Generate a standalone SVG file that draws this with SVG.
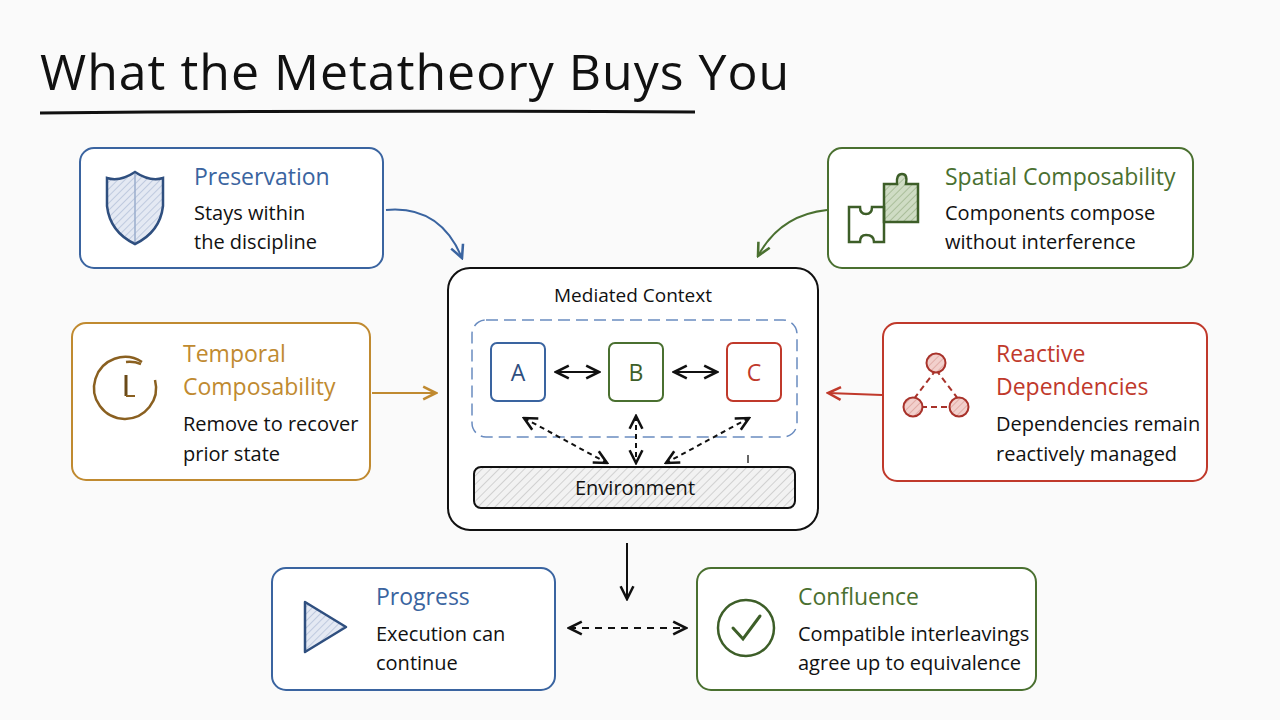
<svg xmlns="http://www.w3.org/2000/svg" width="1280" height="720" viewBox="0 0 1280 720">
<defs>
<style>
text{font-family:"Open Sans","Liberation Sans",sans-serif;}
.t{font-size:23px;}
.d{font-size:20px;fill:#111;}
.box{fill:#fff;stroke-width:2;}
.blue{stroke:#3a64a0;} .green{stroke:#4a7030;} .orange{stroke:#c08a30;} .red{stroke:#c0392b;}
.con{fill:none;stroke-width:2;}
</style>
<pattern id="hatch" width="6" height="6" patternUnits="userSpaceOnUse" patternTransform="rotate(45)">
<rect width="6" height="6" fill="#f2f2f2"/><line x1="0" y1="0" x2="0" y2="6" stroke="#bbb" stroke-width="1.2"/>
</pattern>
<pattern id="hb" width="5" height="5" patternUnits="userSpaceOnUse" patternTransform="rotate(45)">
<rect width="5" height="5" fill="#e4e9f3"/><line x1="0" y1="0" x2="0" y2="5" stroke="#9aaccc" stroke-width="1"/>
</pattern>
<pattern id="hg" width="5" height="5" patternUnits="userSpaceOnUse" patternTransform="rotate(45)">
<rect width="5" height="5" fill="#cfdcc4"/><line x1="0" y1="0" x2="0" y2="5" stroke="#86a070" stroke-width="1"/>
</pattern>
<pattern id="hr" width="5" height="5" patternUnits="userSpaceOnUse" patternTransform="rotate(45)">
<rect width="5" height="5" fill="#f2d0cc"/><line x1="0" y1="0" x2="0" y2="5" stroke="#d08a82" stroke-width="1"/>
</pattern>
<marker id="ab" viewBox="0 0 10 10" refX="9" refY="5" markerWidth="8" markerHeight="8" orient="auto-start-reverse"><path d="M1,1 L9,5 L1,9" fill="none" stroke="#3a64a0" stroke-width="1.6"/></marker>
<marker id="ag" viewBox="0 0 10 10" refX="9" refY="5" markerWidth="8" markerHeight="8" orient="auto-start-reverse"><path d="M1,1 L9,5 L1,9" fill="none" stroke="#4a7030" stroke-width="1.6"/></marker>
<marker id="ao" viewBox="0 0 10 10" refX="9" refY="5" markerWidth="8" markerHeight="8" orient="auto-start-reverse"><path d="M1,1 L9,5 L1,9" fill="none" stroke="#c08a30" stroke-width="1.6"/></marker>
<marker id="ar" viewBox="0 0 10 10" refX="9" refY="5" markerWidth="8" markerHeight="8" orient="auto-start-reverse"><path d="M1,1 L9,5 L1,9" fill="none" stroke="#c0392b" stroke-width="1.6"/></marker>
<marker id="ak" viewBox="0 0 10 10" refX="9" refY="5" markerWidth="8" markerHeight="8" orient="auto-start-reverse"><path d="M1,1 L9,5 L1,9" fill="none" stroke="#111" stroke-width="1.6"/></marker>
</defs>
<rect width="1280" height="720" fill="#fafafa"/>
<g id="title">
<text x="40" y="90" font-size="50" letter-spacing="1" fill="#111">What the Metatheory Buys You</text>
<path d="M40,113 Q360,110 695,112" fill="none" stroke="#111" stroke-width="3"/>
</g>
<g id="preservation">
<rect class="box blue" x="80" y="148" width="303" height="120" rx="14"/>
<path d="M135,172 Q120,182 107,178 L107,206 Q110,232 135,244 Q160,232 163,206 L163,178 Q150,182 135,172Z" fill="url(#hb)" stroke="#2f4f7f" stroke-width="2.5"/>
<line x1="135" y1="174" x2="135" y2="242" stroke="#9aaccc" stroke-width="1.5"/>
<text class="t" x="194" y="185" fill="#3a64a0">Preservation</text>
<text class="d" x="194" y="220">Stays within</text>
<text class="d" x="194" y="249">the discipline</text>
</g>
<g id="spatial">
<rect class="box green" x="828" y="148" width="365" height="120" rx="14"/>
<path d="M884,184 L897,184 Q896,174 902,174 Q908,174 906,184 L918,184 L918,222 L884,222 Z" fill="url(#hg)" stroke="#3d5e28" stroke-width="2.5"/>
<path d="M849,207 L860,207 Q860,214 866,214 Q872,214 872,207 L884,207 L884,242 L874,242 Q874,235 866,235 Q860,235 860,242 L849,242 Z" fill="none" stroke="#3d5e28" stroke-width="2.5"/>
<text class="t" x="945" y="185" fill="#4a7030">Spatial Composability</text>
<text class="d" x="945" y="220">Components compose</text>
<text class="d" x="945" y="249">without interference</text>
</g>
<g id="temporal">
<rect class="box orange" x="72" y="323" width="298" height="157" rx="14"/>
<path d="M155,380 A31,31 0 1 1 142,362" fill="none" stroke="#8a6020" stroke-width="2.5"/>
<path d="M126,362 A31,31 0 0 1 141,364" fill="none" stroke="#8a6020" stroke-width="2.5"/>
<line x1="126" y1="375" x2="126" y2="396" stroke="#6a4a18" stroke-width="3"/>
<line x1="126" y1="396" x2="135" y2="396" stroke="#8a6020" stroke-width="2"/>
<text class="t" x="183" y="362" fill="#c08a30">Temporal</text>
<text class="t" x="183" y="395" fill="#c08a30">Composability</text>
<text class="d" x="183" y="431">Remove to recover</text>
<text class="d" x="183" y="461">prior state</text>
</g>
<g id="reactive">
<rect class="box red" x="883" y="323" width="324" height="158" rx="14"/>
<path d="M936,370 L913,400 M936,370 L959,400 M921,407 L951,407" stroke="#a8322a" stroke-width="2" stroke-dasharray="6,4"/>
<circle cx="936" cy="363" r="9.5" fill="url(#hr)" stroke="#a8322a" stroke-width="2"/>
<circle cx="913" cy="407" r="9.5" fill="url(#hr)" stroke="#a8322a" stroke-width="2"/>
<circle cx="959" cy="407" r="9.5" fill="url(#hr)" stroke="#a8322a" stroke-width="2"/>
<text class="t" x="996" y="362" fill="#c0392b">Reactive</text>
<text class="t" x="996" y="395" fill="#c0392b">Dependencies</text>
<text class="d" x="996" y="431">Dependencies remain</text>
<text class="d" x="996" y="461">reactively managed</text>
</g>
<g id="mediated">
<rect class="box" x="448" y="268" width="370" height="262" rx="22" stroke="#111"/>
<text x="633" y="302" font-size="19" text-anchor="middle" fill="#111">Mediated Context</text>
<rect x="472" y="320" width="325" height="117" rx="14" fill="none" stroke="#6a8cc0" stroke-width="1.5" stroke-dasharray="12,6"/>
<g id="A"><rect class="box blue" x="491" y="343" width="54" height="58" rx="6"/><text x="518" y="381" font-size="23" text-anchor="middle" fill="#2f4f7f">A</text></g>
<g id="B"><rect class="box green" x="609" y="343" width="54" height="58" rx="6"/><text x="636" y="381" font-size="23" text-anchor="middle" fill="#3d5e28">B</text></g>
<g id="C"><rect class="box red" x="727" y="343" width="54" height="58" rx="6"/><text x="754" y="381" font-size="23" text-anchor="middle" fill="#c0392b">C</text></g>
<g id="env"><rect x="474" y="467" width="321" height="41" rx="7" fill="url(#hatch)" stroke="#111" stroke-width="2"/>
<text x="635" y="495" font-size="20" text-anchor="middle" fill="#111">Environment</text></g>
<line x1="748" y1="455" x2="748" y2="463" stroke="#333" stroke-width="1.5"/>
</g>
<g id="progress">
<rect class="box blue" x="272" y="568" width="283" height="122" rx="14"/>
<path d="M305,602 L346,627 L305,652 Z" fill="url(#hb)" stroke="#2f4f7f" stroke-width="2.5" stroke-linejoin="round"/>
<text class="t" x="376" y="605" fill="#3a64a0">Progress</text>
<text class="d" x="376" y="641">Execution can</text>
<text class="d" x="376" y="670">continue</text>
</g>
<g id="confluence">
<rect class="box green" x="697" y="568" width="339" height="122" rx="14"/>
<circle cx="746" cy="628" r="28" fill="none" stroke="#3d5e28" stroke-width="2.5"/>
<path d="M733,628 L743,639 L760,616" fill="none" stroke="#3d5e28" stroke-width="3" stroke-linecap="round"/>
<text class="t" x="798" y="605" fill="#4a7030">Confluence</text>
<text class="d" x="798" y="641">Compatible interleavings</text>
<text class="d" x="798" y="670">agree up to equivalence</text>
</g>
<g id="connectors">
<path class="con" d="M386,210 Q440,205 462,258" stroke="#3a64a0" marker-end="url(#ab)"/>
<path class="con" d="M827,210 Q780,215 758,256" stroke="#4a7030" marker-end="url(#ag)"/>
<path class="con" d="M372,393 L436,393" stroke="#c08a30" marker-end="url(#ao)"/>
<path class="con" d="M882,395 L828,393" stroke="#c0392b" marker-end="url(#ar)"/>
<path class="con" d="M556,372 L599,372" stroke="#111" marker-start="url(#ak)" marker-end="url(#ak)"/>
<path class="con" d="M674,372 L717,372" stroke="#111" marker-start="url(#ak)" marker-end="url(#ak)"/>
<path class="con" d="M524,418 L607,463" stroke="#111" stroke-dasharray="5,4" marker-start="url(#ak)" marker-end="url(#ak)"/>
<path class="con" d="M636,416 L636,463" stroke="#111" stroke-dasharray="5,4" marker-start="url(#ak)" marker-end="url(#ak)"/>
<path class="con" d="M749,418 L666,463" stroke="#111" stroke-dasharray="5,4" marker-start="url(#ak)" marker-end="url(#ak)"/>
<path class="con" d="M627,543 L627,599" stroke="#111" marker-end="url(#ak)"/>
<path class="con" d="M569,628 L686,628" stroke="#111" stroke-dasharray="7,6" marker-start="url(#ak)" marker-end="url(#ak)"/>
</g>
</svg>
